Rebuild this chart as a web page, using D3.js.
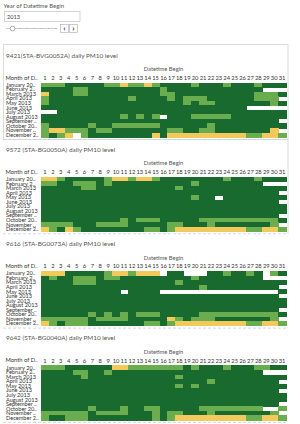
<!DOCTYPE html>
<html>
<head>
<meta charset="utf-8">
<script src="https://cdn.jsdelivr.net/npm/d3@7.9.0/dist/d3.min.js"></script>
<style>
  body { margin: 0; background: #fff; }
  svg { display: block; font-family: Lato, "Open Sans", sans-serif; }
</style>
</head>
<body>
<svg id="chart" width="300" height="424"></svg>
<script>
// daily PM10 level: 0 = no data, 1 = low, 2 = moderate, 3 = high
const year = '2013';
const sliderYears = ['2013', '2014', '2015', '2016', '2017', '2018', '2019'];
const days = [1, 2, 3, 4, 5, 6, 7, 8, 9, 10, 11, 12, 13, 14, 15, 16, 17, 18, 19, 20,
  21, 22, 23, 24, 25, 26, 27, 28, 29, 30, 31];
const months = ['January 2013', 'February 2013', 'March 2013', 'April 2013', 'May 2013', 'June 2013',
  'July 2013', 'August 2013', 'September 2013', 'October 2013', 'November 2013', 'December 2013'];
const monthLabels = ['January 20..', 'February 2..', 'March 2013', 'April 2013', 'May 2013', 'June 2013',
  'July 2013', 'August 2013', 'September ..', 'October 20..', 'November ..', 'December 2..'];
const stationTitles = [
  '9421(STA-BVG0052A) daily PM10 level',
  '9572 (STA-BG0050A) daily PM10 level',
  '9616 (STA-BG0073A) daily  PM10 level',
  '9642 (STA-BG0040A) daily PM10 level'
];

// one string per month, one digit per day (groups of ten)
const pm9421 = [
  '2221111122 3223211112 1112111211 1',
  '1111221111 1111121111 1111111100 0',
  '3111221111 1111122111 1111111222 1',
  '2111111111 1211112122 2111111222 0',
  '2111111111 1111111121 2211111112 1',
  '1111111111 1111111111 1111110000 0',
  '0011111111 1111111111 1111111111 1',
  '1111111111 2121201112 2222111111 1',
  '1111111111 1111111111 1111111111 0',
  '2111112112 2222211111 1211111111 1',
  '2332221221 1111112211 2211111113 0',
  '2123021111 1111313333 3333332233 2'
];
const pm9572 = [
  '3321111123 3233211111 1112111211 1',
  '2211222121 1111111112 1111111100 0',
  '1111122111 1111111211 1111111111 1',
  '1111111111 1111111111 1111111111 0',
  '1111111111 1111111112 1101111111 1',
  '1111111111 1111111111 1111111111 0',
  '1111111111 1111111111 1111111111 1',
  '1111111111 1111111111 1111111111 1',
  '1111111111 1111111111 1111111111 0',
  '1111111111 2122211111 2222222222 1',
  '2222111222 2111112211 1211111112 0',
  '3213211111 1112212333 3333332233 2'
];
const pm9616 = [
  '3331111123 3233301100 0112112102 1',
  '1211222122 1111111112 1111111100 0',
  '1111222111 1111111211 1111111111 1',
  '1111111111 1111111111 2111111111 0',
  '1111111111 0111100000 0000000000 1',
  '1111111111 1111111111 1111111111 0',
  '1111111111 1111111111 1111111111 1',
  '1111111111 1111111111 1111111111 1',
  '1111111111 1111111111 1111111111 0',
  '1111112121 2122211111 2222222222 1',
  '2222221222 2111113212 2211111112 0',
  '3212221111 1112212333 3333332233 2'
];
const pm9642 = [
  '2221111113 3222222212 1112111221 1',
  '1111221121 1111111111 1111111100 0',
  '1111121111 1111111211 1111111111 1',
  '1111111111 1111111111 1211111111 0',
  '1111111111 1111111212 1111111111 1',
  '1111111111 1111111111 1111111111 0',
  '1111111111 1111111111 1111111111 1',
  '1111111111 1111111111 1111111111 1',
  '1111111111 1111111111 1111111111 0',
  '1111112111 2112211111 2222222200 2',
  '2222221222 2111212211 1211111112 0',
  '2112221111 1111212333 3333332233 2'
];
const levels = ['1', '2', '3'];
const levelColors = ['#186a2f', '#69ad4e', '#f3c95c'];

const stations = [pm9421, pm9572, pm9616, pm9642].map((rows, i) => ({
  title: stationTitles[i],
  rows: rows
}));

const svg = d3.select('#chart');
const color = d3.scaleOrdinal().domain(levels).range(levelColors);

const x = d3.scaleBand().domain(days).range([41, 286]);
const y = d3.scaleBand().domain(months).range([0, 54.6]);

// --- year filter ---
const filter = svg.append('g');
filter.append('text')
  .attr('x', 3.5).attr('y', 8.3)
  .attr('font-size', 6).attr('fill', '#555')
  .text('Year of Datetime Begin');
filter.append('rect')
  .attr('x', 4.5).attr('y', 11.5).attr('width', 75.5).attr('height', 10)
  .attr('fill', '#fff').attr('stroke', '#c9c9c9').attr('stroke-width', 0.8);
filter.append('text')
  .attr('x', 7).attr('y', 18.8)
  .attr('font-size', 5.6).attr('fill', '#444')
  .text(year);

const sx = d3.scalePoint().domain(sliderYears).range([12.5, 56]);
filter.append('line')
  .attr('x1', 6).attr('x2', 57).attr('y1', 28.5).attr('y2', 28.5)
  .attr('stroke', '#bbb').attr('stroke-width', 0.7);
filter.selectAll('circle.tick')
  .data(sliderYears.slice(1))
  .join('circle')
  .attr('cx', d => sx(d)).attr('cy', 28.5).attr('r', 0.5)
  .attr('fill', '#999');
filter.append('circle')
  .attr('cx', sx(year)).attr('cy', 28.5).attr('r', 2.4)
  .attr('fill', '#fff').attr('stroke', '#888').attr('stroke-width', 0.7);

const buttons = filter.selectAll('g.btn')
  .data(['‹', '›'])
  .join('g')
  .attr('transform', (d, i) => `translate(${60.5 + i * 9},24.5)`);
buttons.append('rect')
  .attr('width', 8).attr('height', 8)
  .attr('fill', '#fff').attr('stroke', '#b5b5b5').attr('stroke-width', 0.7);
buttons.append('text')
  .attr('x', 4).attr('y', 6.6).attr('text-anchor', 'middle')
  .attr('font-size', 8).attr('font-weight', 'bold').attr('fill', '#333')
  .text(d => d);

// --- panels ---
const panelStep = 94.3;

// container borders (first sheet boxed, second sheet right edge)
svg.append('rect')
  .attr('x', 3.5).attr('y', 44.5).attr('width', 284.5).attr('height', 95)
  .attr('fill', 'none').attr('stroke', '#d4d4d4').attr('stroke-width', 0.8);
svg.append('line')
  .attr('x1', 288).attr('x2', 288).attr('y1', 139.5).attr('y2', 139.5 + panelStep)
  .attr('stroke', '#d4d4d4').attr('stroke-width', 0.8);

stations.forEach((st, i) => drawPanel(i * panelStep, st));

function drawPanel(oy, st) {
  const g = svg.append('g').attr('transform', `translate(0,${oy})`);
  const gridTop = 82.5;

  g.append('text')
    .attr('x', 6).attr('y', 57.5)
    .attr('font-size', 6.4).attr('fill', '#555')
    .text(st.title);

  g.append('text')
    .attr('x', (x.range()[0] + x.range()[1]) / 2).attr('y', 71.2)
    .attr('text-anchor', 'middle')
    .attr('font-size', 5.8).attr('fill', '#555')
    .text('Datetime Begin');

  g.append('text')
    .attr('x', 5.5).attr('y', 79.6)
    .attr('font-size', 5.8).attr('fill', '#333')
    .text('Month of D..');

  const axis = g.append('g')
    .attr('transform', 'translate(0,79.6)')
    .call(d3.axisTop(x).tickSize(0).tickPadding(0));
  axis.select('.domain').remove();
  axis.selectAll('text')
    .attr('font-size', 5.8).attr('fill', '#333')
    .attr('font-family', 'Lato, "Open Sans", sans-serif')
    .attr('dy', 0);

  const cells = [];
  st.rows.forEach((r, mi) => {
    r.replace(/ /g, '').split('').forEach((v, di) => {
      if (v !== '0') cells.push({ month: months[mi], day: days[di], level: v });
    });
  });

  g.append('g')
    .attr('shape-rendering', 'crispEdges')
    .selectAll('rect')
    .data(cells)
    .join('rect')
    .attr('x', d => x(d.day))
    .attr('y', d => gridTop + y(d.month))
    .attr('width', x.bandwidth() + 0.5)
    .attr('height', y.bandwidth() + 0.5)
    .attr('fill', d => color(d.level));

  g.append('g')
    .selectAll('text')
    .data(months)
    .join('text')
    .attr('x', 6)
    .attr('y', d => gridTop + y(d) + y.bandwidth() / 2)
    .attr('dy', '0.36em')
    .attr('font-size', 5.6)
    .attr('fill', '#333')
    .text((d, i) => monthLabels[i]);

  // dashed separator under each panel
  g.append('line')
    .attr('x1', 3).attr('x2', 288)
    .attr('y1', 139.5).attr('y2', 139.5)
    .attr('stroke', '#c5cfdc').attr('stroke-width', 0.8)
    .attr('stroke-dasharray', '3,2');
}
</script>
</body>
</html>
